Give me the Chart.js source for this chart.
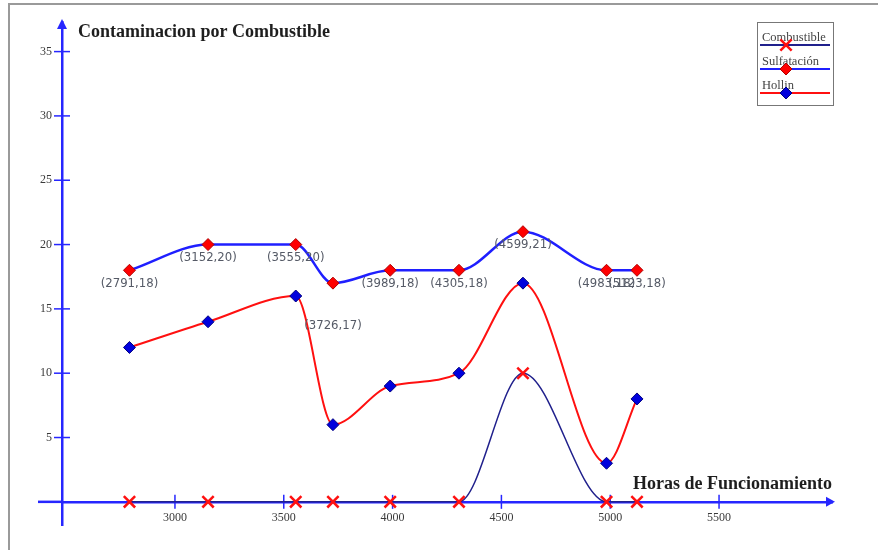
<!DOCTYPE html>
<html>
<head>
<meta charset="utf-8">
<script src="https://cdn.jsdelivr.net/npm/chart.js@4"></script>
<style>
  body { margin: 0; background: #fff; }
  canvas { display: block; }
</style>
</head>
<body>
<canvas id="chart" width="878" height="550"></canvas>
<script>
// Datos
const horas = [2791, 3152, 3555, 3726, 3989, 4305, 4599, 4983, 5123];
const combustible = [0, 0, 0, 0, 0, 0, 10, 0, 0];
const sulfatacion = [18, 20, 20, 17, 18, 18, 21, 18, 18];
const hollin = [12, 14, 16, 6, 9, 10, 17, 3, 8];
const xTicks = [3000, 3500, 4000, 4500, 5000, 5500];
const yTicks = [5, 10, 15, 20, 25, 30, 35];

const AXIS_BLUE = "#2626ff";
const toPoints = ys => horas.map((x, i) => ({ x, y: ys[i] }));

// Marco, ejes con flechas, marcas, titulo, etiquetas y leyenda
const decor = {
  id: "decor",
  beforeDraw(chart) {
    const { ctx } = chart;
    ctx.save();
    ctx.strokeStyle = "#9a9a9a";
    ctx.lineWidth = 2;
    ctx.beginPath();
    ctx.moveTo(9, 550);
    ctx.lineTo(9, 4);
    ctx.lineTo(878, 4);
    ctx.stroke();
    ctx.restore();
  },
  beforeDatasetsDraw(chart) {
    const { ctx, chartArea, scales } = chart;
    const ax = chartArea.left;
    const ay = scales.y.getPixelForValue(0);
    ctx.save();
    ctx.strokeStyle = AXIS_BLUE;
    ctx.fillStyle = AXIS_BLUE;
    // tramo del eje x a la izquierda del eje y
    ctx.lineWidth = 2.5;
    ctx.beginPath();
    ctx.moveTo(38, ay);
    ctx.lineTo(ax, ay);
    ctx.stroke();
    ctx.lineWidth = 1.5;
    scales.x.ticks.forEach(t => {
      const px = scales.x.getPixelForValue(t.value);
      ctx.beginPath();
      ctx.moveTo(px, ay - 7);
      ctx.lineTo(px, ay + 7);
      ctx.stroke();
    });
    scales.y.ticks.forEach(t => {
      const py = scales.y.getPixelForValue(t.value);
      ctx.beginPath();
      ctx.moveTo(ax - 8, py);
      ctx.lineTo(ax + 8, py);
      ctx.stroke();
    });
    // flechas
    ctx.beginPath();
    ctx.moveTo(chartArea.right + 3, ay);
    ctx.lineTo(chartArea.right - 6, ay - 5);
    ctx.lineTo(chartArea.right - 6, ay + 5);
    ctx.closePath();
    ctx.fill();
    ctx.beginPath();
    ctx.moveTo(ax, chartArea.top - 3);
    ctx.lineTo(ax - 5, chartArea.top + 7);
    ctx.lineTo(ax + 5, chartArea.top + 7);
    ctx.closePath();
    ctx.fill();
    ctx.restore();
  },
  afterDatasetsDraw(chart) {
    const { ctx } = chart;
    const meta = chart.getDatasetMeta(1);
    ctx.save();
    ctx.font = "13px 'DejaVu Sans Condensed', 'Liberation Sans'";
    ctx.fillStyle = "#555a66";
    ctx.textAlign = "center";
    ctx.textBaseline = "middle";
    meta.data.forEach((pt, i) => {
      const dy = i === 3 ? 42 : 13;
      ctx.fillText("(" + horas[i] + "," + sulfatacion[i] + ")", pt.x, pt.y + dy);
    });
    ctx.restore();
  },
  afterDraw(chart) {
    const { ctx, chartArea } = chart;
    const ay = chart.scales.y.getPixelForValue(0);
    ctx.save();
    ctx.fillStyle = "#1e1e1e";
    ctx.font = "bold 18px 'Liberation Serif'";
    ctx.textBaseline = "alphabetic";
    ctx.textAlign = "left";
    ctx.fillText("Contaminacion por Combustible", 78, 37);
    ctx.textAlign = "right";
    ctx.fillText("Horas de Funcionamiento", chartArea.right, ay - 13);

    // leyenda
    const lx = 757, ly = 22, lw = 76, lh = 83;
    ctx.fillStyle = "#fff";
    ctx.fillRect(lx, ly, lw, lh);
    ctx.strokeStyle = "#777";
    ctx.lineWidth = 1;
    ctx.strokeRect(lx + 0.5, ly + 0.5, lw, lh);
    ctx.font = "12.5px 'Liberation Serif'";
    ctx.textAlign = "left";
    chart.data.datasets.forEach((ds, i) => {
      const yLine = ly + 23 + i * 24;
      ctx.fillStyle = "#444";
      ctx.fillText(ds.label, lx + 5, yLine - 4);
      ctx.strokeStyle = ds.borderColor;
      ctx.lineWidth = 2;
      ctx.beginPath();
      ctx.moveTo(lx + 3, yLine);
      ctx.lineTo(lx + lw - 3, yLine);
      ctx.stroke();
      ctx.fillStyle = ds.pointBackgroundColor;
      ctx.strokeStyle = ds.pointBorderColor;
      ctx.lineWidth = ds.pointBorderWidth;
      Chart.helpers.drawPoint(ctx, {
        pointStyle: ds.pointStyle,
        radius: ds.pointRadius,
        borderWidth: ds.pointBorderWidth
      }, lx + 29, yLine);
    });
    ctx.restore();
  }
};

new Chart(document.getElementById("chart"), {
  type: "scatter",
  data: {
    datasets: [
      {
        label: "Combustible",
        data: toPoints(combustible),
        showLine: true,
        cubicInterpolationMode: "monotone",
        borderColor: "#20208c",
        borderWidth: 1.5,
        pointStyle: "crossRot",
        pointRadius: 8,
        pointBorderColor: "#ff1010",
        pointBackgroundColor: "#ff1010",
        pointBorderWidth: 2.5
      },
      {
        label: "Sulfatación",
        data: toPoints(sulfatacion),
        showLine: true,
        cubicInterpolationMode: "monotone",
        borderColor: "#1f1fff",
        borderWidth: 2.5,
        pointStyle: "rectRot",
        pointRadius: 6,
        pointBackgroundColor: "#ff0000",
        pointBorderColor: "#b00000",
        pointBorderWidth: 1
      },
      {
        label: "Hollin",
        data: toPoints(hollin),
        showLine: true,
        cubicInterpolationMode: "monotone",
        borderColor: "#ff1010",
        borderWidth: 2,
        pointStyle: "rectRot",
        pointRadius: 6,
        pointBackgroundColor: "#0000dd",
        pointBorderColor: "#000080",
        pointBorderWidth: 1
      }
    ]
  },
  options: {
    responsive: false,
    animation: false,
    layout: { padding: { left: 38, right: 46, top: 22, bottom: 25 } },
    plugins: {
      legend: { display: false },
      tooltip: { enabled: false }
    },
    scales: {
      x: {
        type: "linear",
        min: 2481,
        max: 6019,
        position: { y: 0 },
        grid: { display: false, drawTicks: false },
        border: { color: AXIS_BLUE, width: 2.5 },
        ticks: {
          font: { family: "'Liberation Serif'", size: 12 },
          color: "#3a3a3a",
          padding: 9,
          callback: v => String(v)
        },
        afterBuildTicks: s => { s.ticks = xTicks.map(v => ({ value: v })); }
      },
      y: {
        type: "linear",
        min: -1.8,
        max: 37.3,
        position: "left",
        grid: { display: false, drawTicks: false },
        border: { color: AXIS_BLUE, width: 2.5 },
        ticks: {
          font: { family: "'Liberation Serif'", size: 12 },
          color: "#3a3a3a",
          padding: 10,
          callback: v => String(v)
        },
        afterBuildTicks: s => { s.ticks = yTicks.map(v => ({ value: v })); },
        afterFit: s => { s.width = 24; }
      }
    }
  },
  plugins: [decor]
});
</script>
</body>
</html>
